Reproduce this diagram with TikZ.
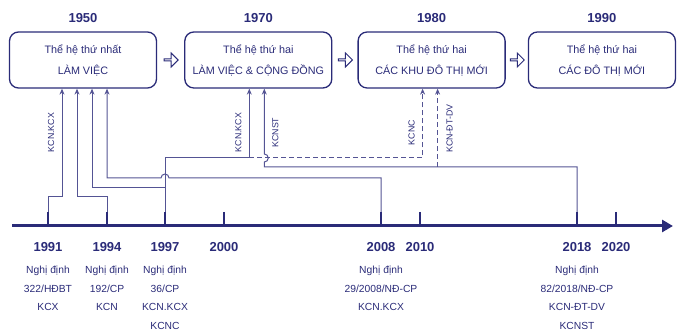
\documentclass[tikz,border=0pt]{standalone}
\usepackage{fontspec}
\setmainfont{Liberation Sans}
\usetikzlibrary{positioning, calc, shapes.arrows, arrows.meta}
\definecolor{navy}{RGB}{42,43,120}
\definecolor{linec}{RGB}{84,84,148}
\tikzstyle{box} = [rectangle, rounded corners=9pt, minimum width=147pt, minimum height=56pt, inner sep=0pt, align=center, draw=navy, line width=1.3pt, text=navy, font=\fontsize{10.8}{21}\selectfont]
\tikzstyle{year} = [text=navy, inner sep=0pt, font=\bfseries\fontsize{13}{13}\selectfont]
\tikzstyle{note} = [text=navy, inner sep=0pt, align=center, anchor=north, font=\fontsize{10.3}{18.5}\selectfont]
\tikzstyle{lbl} = [text=navy, inner sep=0pt, rotate=90, font=\fontsize{8.8}{9}\selectfont]
\tikzstyle{harrow} = [single arrow, draw=navy, line width=1pt, minimum height=14pt, minimum width=14pt, single arrow head extend=3pt, inner sep=0pt]
\tikzstyle{conn} = [draw=linec, line width=1pt, -{Stealth[length=6pt,width=5pt]}]
\tikzstyle{dashline} = [dash pattern=on 5pt off 3pt]
\tikzstyle{axis} = [draw=navy, line width=3pt, -{Triangle[length=11pt,width=12pt]}]
\tikzstyle{tick} = [draw=navy, line width=2.5pt]

\begin{document}
\begin{tikzpicture}[x=1pt, y=1pt]
          \useasboundingbox (0,0) rectangle (685,-336);
          % generations
          \node (b1) [box] at (83,-60) {Thể hệ thứ nhất\\LÀM VIỆC};
          \node (b2) [box, right=27pt of b1] {Thể hệ thứ hai\\LÀM VIỆC \& CỘNG ĐỒNG};
          \node (b3) [box, right=25pt of b2] {Thể hệ thứ hai\\CÁC KHU ĐÔ THỊ MỚI};
          \node (b4) [box, right=22pt of b3] {Thể hệ thứ hai\\CÁC ĐÔ THỊ MỚI};
          \node (y1950) [year, above=9pt of b1] {1950};
          \node (y1970) [year, above=9pt of b2] {1970};
          \node (y1980) [year, above=9pt of b3] {1980};
          \node (y1990) [year, above=9pt of b4] {1990};
          \node (a12) [harrow] at ($(b1.east)!0.5!(b2.west)$) {};
          \node (a23) [harrow] at ($(b2.east)!0.5!(b3.west)$) {};
          \node (a34) [harrow] at ($(b3.east)!0.5!(b4.west)$) {};
          % timeline
          \coordinate (ax0) at (12,-226);
          \coordinate (ax1) at (673,-226);
          \draw [axis] (ax0) -- (ax1);
          \foreach \yr/\x in {1991/48, 1994/107, 1997/165, 2000/224, 2008/381, 2010/420, 2018/577, 2020/616} {
            \coordinate (t\yr) at (\x,-212);
            \draw [tick] (t\yr) -- (\x,-226);
            \node (l\yr) [year] at (\x,-247) {\yr};
          }
          \node (n1991) [note] at (48,-266) {Nghị định\\322/HĐBT\\KCX};
          \node (n1994) [note] at (107,-266) {Nghị định\\192/CP\\KCN};
          \node (n1997) [note] at (165,-266) {Nghị định\\36/CP\\KCN.KCX\\KCNC};
          \node (n2008) [note] at (381,-266) {Nghị định\\29/2008/NĐ-CP\\KCN.KCX};
          \node (n2018) [note] at (577,-266) {Nghị định\\82/2018/NĐ-CP\\KCN-ĐT-DV\\KCNST};
          % entry points
          \coordinate (p1a) at ($(b1.south)+(-21,0)$);
          \coordinate (p1b) at ($(b1.south)+(-6,0)$);
          \coordinate (p1c) at ($(b1.south)+(9,0)$);
          \coordinate (p1d) at ($(b1.south)+(24,0)$);
          \coordinate (p2a) at ($(b2.south)+(-9,0)$);
          \coordinate (p2b) at ($(b2.south)+(6,0)$);
          \coordinate (p3a) at ($(b3.south)+(-9,0)$);
          \coordinate (p3b) at ($(b3.south)+(6,0)$);
          \coordinate (j1997) at ($(t1997)+(0,24)$);
          \coordinate (k1997) at ($(t1997)+(0,54)$);
          \coordinate (r2018) at ($(t2018)+(0,45)$);
          % decrees
          \draw [conn] (t1991) -- ++(0,15) -| (p1a);
          \draw [conn] (t1994) -- ++(0,15) -| (p1b);
          \draw [conn] (j1997) -| (p1c);
          \draw [conn] (t2008) -- ++(0,34) -- ($(t1997)+(4,34)$) arc (0:180:4) -| (p1d);
          \draw [conn] (t1997) -- (k1997) -| (p2a);
          \draw [conn, dashline] (p2a |- k1997) -| (p3a);
          \draw [conn] (t2018) -- (r2018) -- ($(p2b |- r2018)$) -- ++(0,5) arc (-90:90:4) -- (p2b);
          \draw [conn, dashline] (p3b |- r2018) -- (p3b);
          \node (k1a) [lbl] at ($(p1a)+(-11,-44)$) {KCN.KCX};
          \node (k2a) [lbl] at ($(p2a)+(-11,-44)$) {KCN.KCX};
          \node (k2b) [lbl] at ($(p2b)+(11,-44)$) {KCNST};
          \node (k3a) [lbl] at ($(p3a)+(-11,-44)$) {KCNC};
          \node (k3b) [lbl] at ($(p3b)+(12,-40)$) {KCN-ĐT-DV};
        \end{tikzpicture}
\end{document}
